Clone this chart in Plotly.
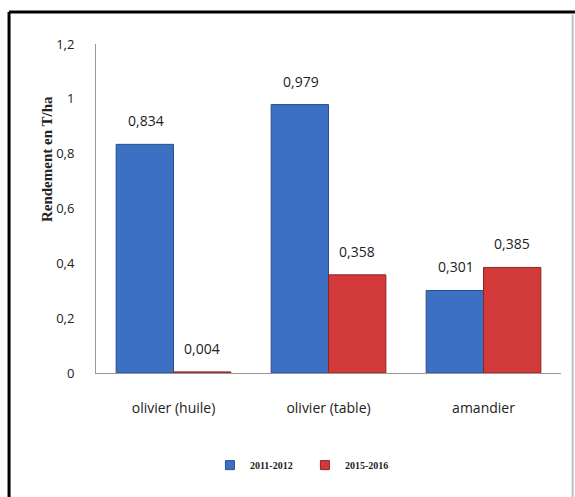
import plotly.graph_objects as go

categories = ["olivier (huile)", "olivier (table)", "amandier"]
series_names = ["2011-2012", "2015-2016"]
values_2011 = [0.834, 0.979, 0.301]
values_2015 = [0.004, 0.358, 0.385]
value_labels_2011 = ["0,834", "0,979", "0,301"]
value_labels_2015 = ["0,004", "0,358", "0,385"]
y_ticks = [0, 0.2, 0.4, 0.6, 0.8, 1, 1.2]
y_tick_labels = ["0", "0,2", "0,4", "0,6", "0,8", "1", "1,2"]

blue = "#3b70c2"
red = "#d23a3a"

fig = go.Figure()
fig.add_trace(go.Bar(name=series_names[0], x=categories, y=values_2011, showlegend=False,
                     marker=dict(color=blue, line=dict(color="#2a4f8c", width=1))))
fig.add_trace(go.Bar(name=series_names[1], x=categories, y=values_2015, showlegend=False,
                     marker=dict(color=red, line=dict(color="#8f2222", width=1))))
# legend entries with small square markers
fig.add_trace(go.Scatter(name=series_names[0], x=[None], y=[None], mode="markers",
                         marker=dict(symbol="square", size=9, color=blue,
                                     line=dict(color="#2a4f8c", width=1))))
fig.add_trace(go.Scatter(name=series_names[1], x=[None], y=[None], mode="markers",
                         marker=dict(symbol="square", size=9, color=red,
                                     line=dict(color="#8f2222", width=1))))

annotations = []
for vals, labs, shift in [(values_2011, value_labels_2011, -28), (values_2015, value_labels_2015, 28)]:
    for c, v, t in zip(categories, vals, labs):
        annotations.append(dict(x=c, y=v, text=t, showarrow=False, xshift=shift, yshift=12,
                                yanchor="bottom", font=dict(family="Open Sans", size=14, color="#222222")))

annotations.append(dict(x=-0.127, y=0.65, xref="paper", yref="paper", text="<b>Rendement en T/ha</b>",
                        textangle=-90, showarrow=False,
                        font=dict(family="Liberation Serif", size=15, color="#222222")))

fig.update_layout(
    width=575, height=497,
    margin=dict(l=96, r=14, t=44, b=124),
    paper_bgcolor="white", plot_bgcolor="white",
    barmode="group", bargap=0.26, bargroupgap=0.0,
    showlegend=True,
    legend=dict(orientation="h", x=0.245, xanchor="left", y=-0.28, yanchor="middle",
                font=dict(family="Liberation Serif", size=10, color="#222222", weight="bold"),
                itemwidth=30, entrywidth=50, tracegroupgap=0),
    annotations=annotations,
    shapes=[
        dict(type="line", xref="paper", yref="paper", x0=-0.187, x1=1.03, y0=1.097, y1=1.097,
             line=dict(color="black", width=3)),
        dict(type="line", xref="paper", yref="paper", x0=-0.187, x1=-0.187, y0=1.097, y1=-0.38,
             line=dict(color="black", width=3)),
        dict(type="line", xref="paper", yref="paper", x0=1.025, x1=1.025, y0=1.09, y1=-0.38,
             line=dict(color="#b8c4c4", width=2)),
    ],
)
fig.update_xaxes(showline=True, linecolor="#9a9a9a", linewidth=1, ticks="",
                 tickfont=dict(family="Open Sans", size=14, color="#222222"),
                 ticklabelstandoff=22)
fig.update_yaxes(range=[0, 1.2], tickvals=y_ticks, ticktext=y_tick_labels,
                 showgrid=False, zeroline=False, showline=True, linecolor="#9a9a9a", linewidth=1,
                 ticks="", tickfont=dict(family="Open Sans", size=13, color="#222222"),
                 ticklabelstandoff=18)

fig.write_html("out.html")
